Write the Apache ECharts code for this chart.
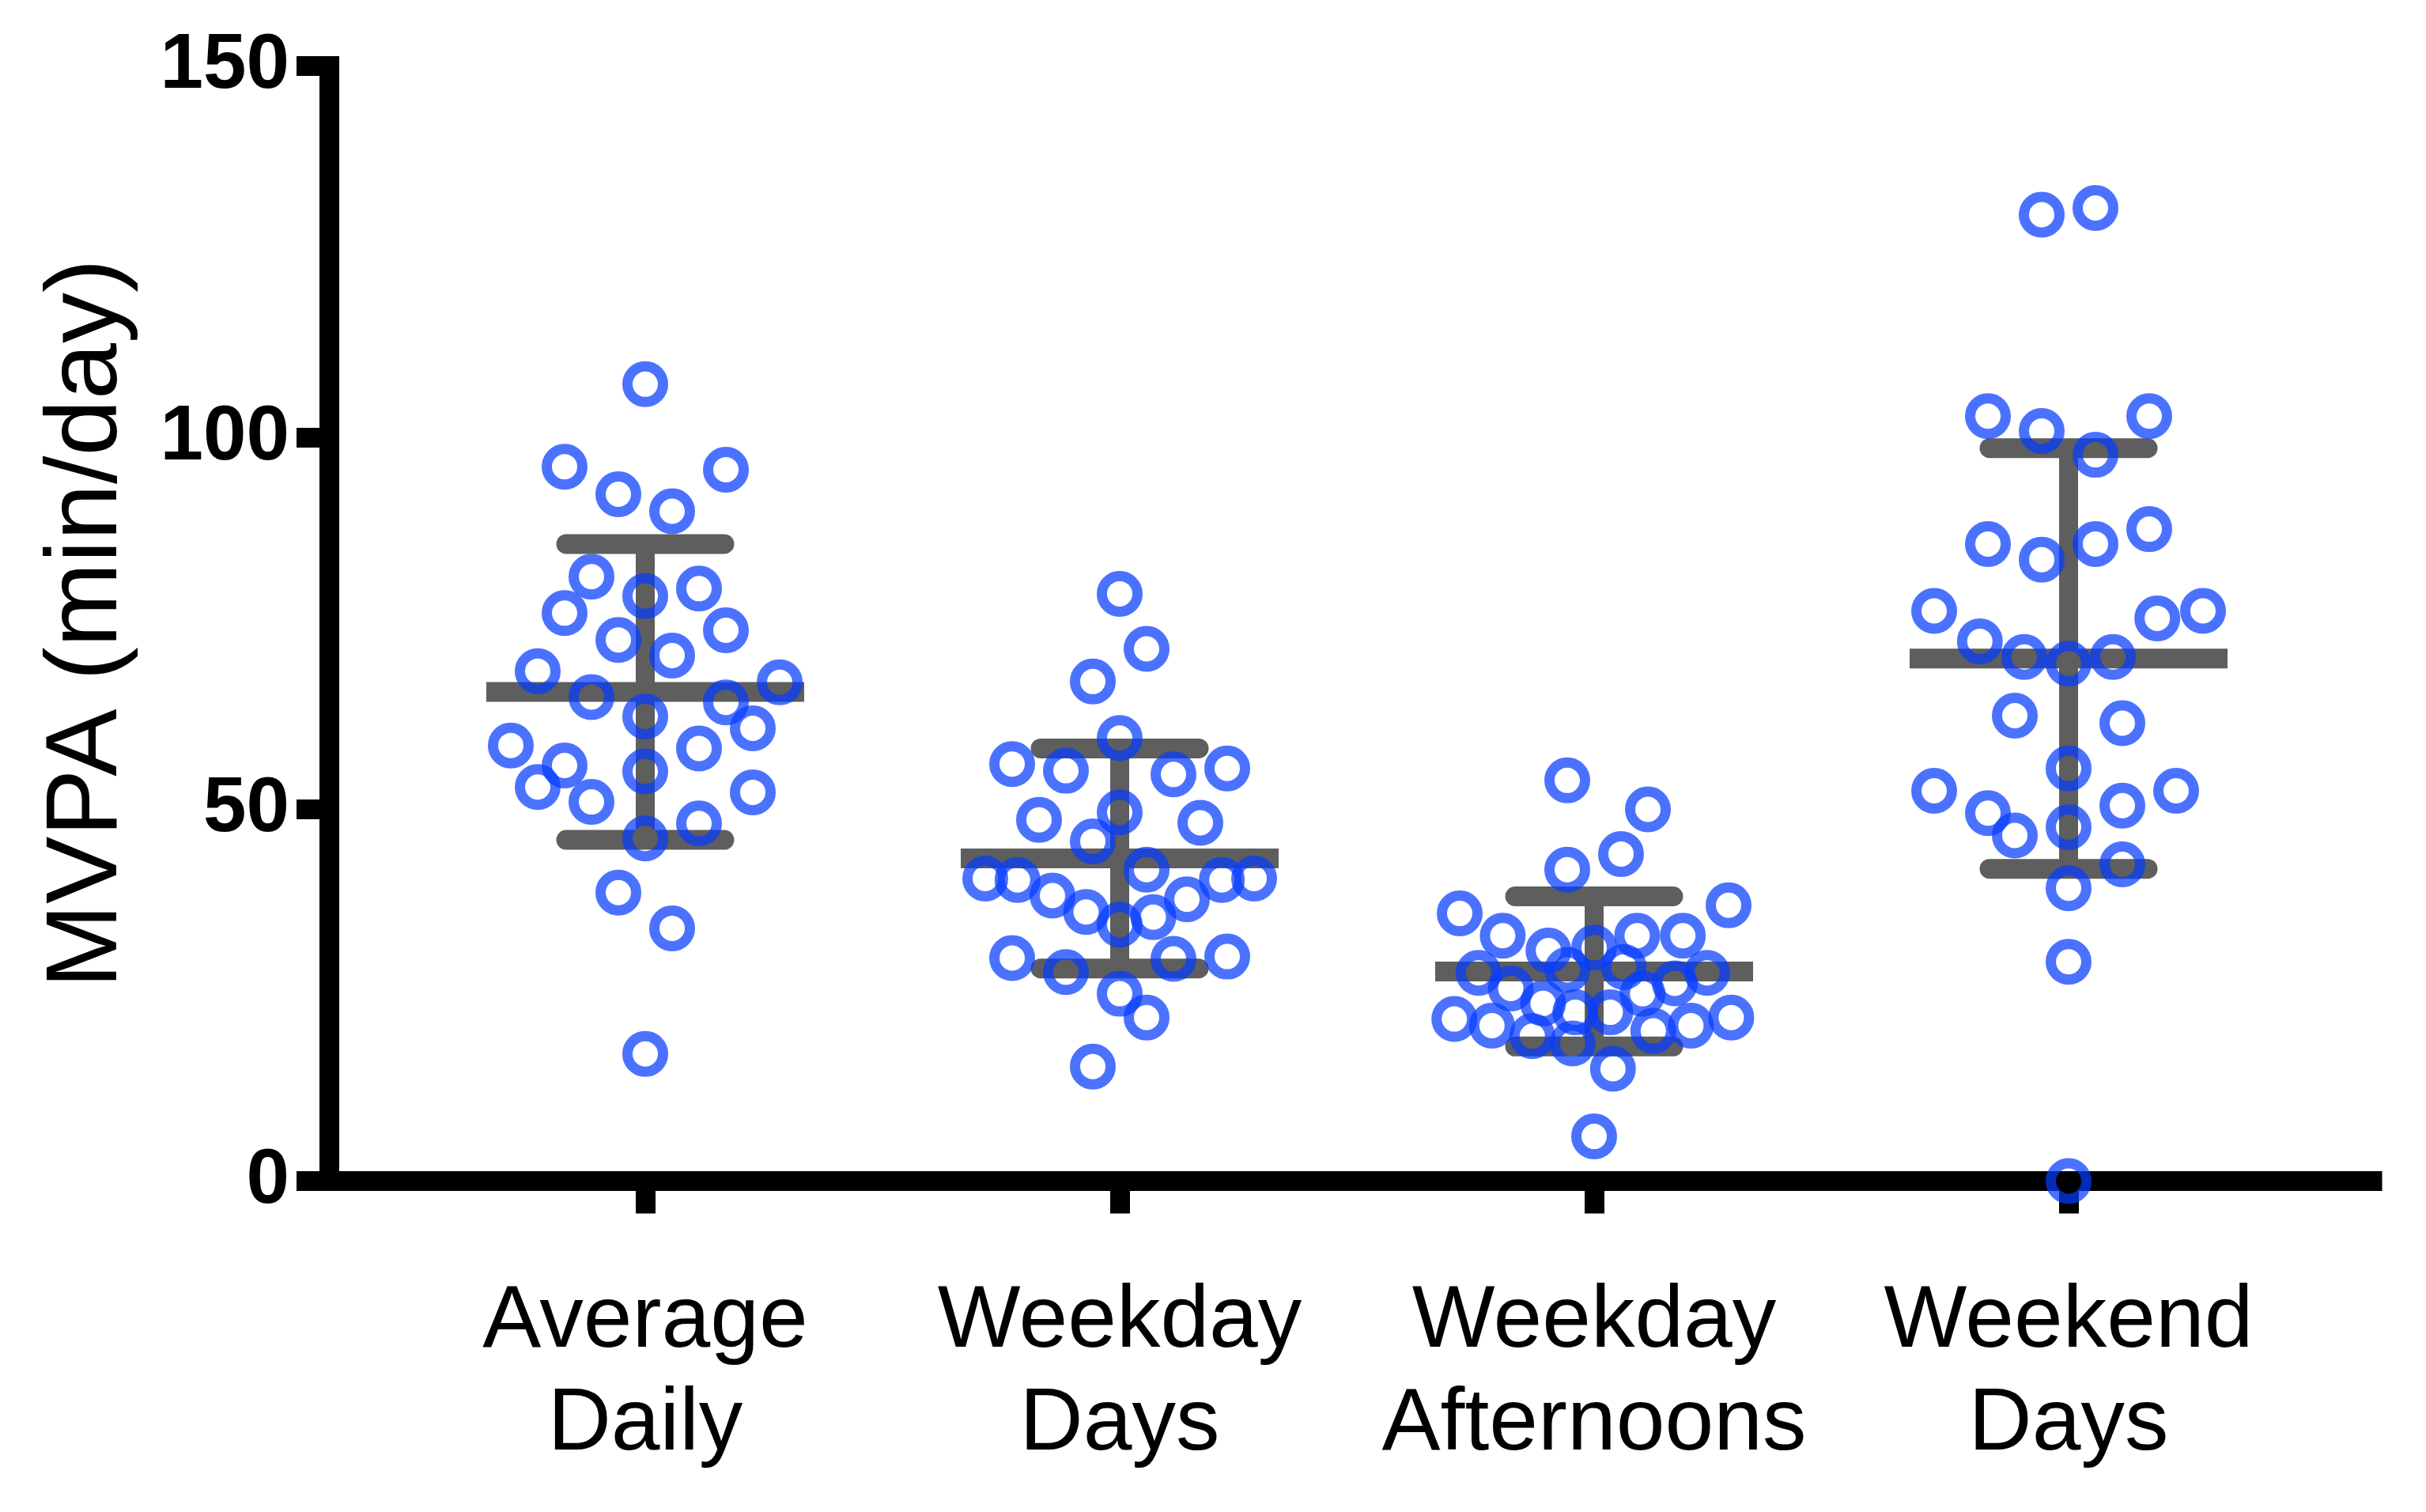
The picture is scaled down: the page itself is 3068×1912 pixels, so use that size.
<!DOCTYPE html>
<html>
<head>
<meta charset="utf-8">
<script src="https://cdn.jsdelivr.net/npm/echarts@6/dist/echarts.min.js"></script>
<style>
  html, body { margin: 0; padding: 0; background: #ffffff; }
  #chart { width: 3068px; height: 1912px; }
</style>
</head>
<body>
<div id="chart"></div>
<script>
// ---- Data ----
const categories = ['Average\nDaily', 'Weekday\nDays', 'Weekday\nAfternoons', 'Weekend\nDays'];
const yTicks = [0, 50, 100, 150];

const averageDailyValues = [107.2, 96.1, 95.7, 92.4, 90.1, 81.3, 78.7, 79.7, 76.4, 74.1, 72.8, 70.7, 68.6, 67.1, 65.1, 64.4, 62.5, 60.9, 58.6, 58.2, 55.9, 55.1, 53.0, 52.3, 51.0, 48.1, 46.1, 38.8, 34.0, 17.1];
const averageDailySlots  = [0, -3, 3, -1, 1, -2, 0, 2, -3, 3, -1, 1, -4, 5, -2, 3, 0, 4, -5, 2, -3, 0, -4, 4, -2, 2, 0, -1, 1, 0];

const weekdayDaysValues = [79.0, 71.6, 67.2, 59.6, 56.1, 55.2, 54.7, 55.5, 49.6, 48.6, 48.2, 45.7, 41.9, 40.7, 40.5, 40.5, 40.7, 38.4, 37.9, 36.2, 35.5, 34.5, 30.0, 29.9, 30.2, 28.1, 25.2, 22.0, 15.4];
const weekdayDaysSlots  = [0, 1, -1, 0, -4, -2, 2, 4, 0, -3, 3, -1, 1, -5, -3.8, 3.8, 5, -2.5, 2.5, -1.25, 1.25, 0, -4, 2, 4, -2, 0, 1, -1];

const weekdayAfternoonsValues = [53.9, 50.0, 44.0, 41.9, 36.0, 37.1, 33.0, 31.0, 31.4, 33.0, 33.0, 28.0, 28.0, 28.4, 28.8, 25.9, 23.9, 22.7, 22.7, 25.2, 26.6, 21.8, 20.9, 19.5, 18.5, 20.2, 20.9, 22.0, 15.1, 6.0];
const weekdayAfternoonsSlots  = [-1, 2, 1, -1, -5, 5, -3.4, -1.7, 0, 1.6, 3.3, -4.3, 4.2, -1, 1.1, -3.1, -1.9, -0.7, 0.6, 1.8, 3, -5.2, -3.8, -2.3, -0.8, 2.2, 3.6, 5.1, 0.7, 0];

const weekendDaysValues = [130.0, 130.9, 102.9, 102.9, 100.9, 97.7, 85.7, 87.7, 83.6, 85.7, 76.7, 76.7, 75.7, 72.6, 70.5, 69.6, 70.5, 62.6, 61.6, 55.5, 52.5, 52.5, 49.5, 50.5, 46.5, 47.6, 42.6, 39.4, 29.5, 0];
const weekendDaysSlots  = [-1, 1, -3, 3, -1, 1, -3, 3, -1, 1, -5, 5, 3.3, -3.3, -1.65, 0, 1.65, -2, 2, 0, -5, 4, -3, 2, -2, 0, 2, 0, 0, 0];

const groupMeans = [65.8, 43.4, 28.2, 70.3];
const groupSDs   = [19.9, 14.8, 10.1, 28.3];

// ---- Build chart ----
const SLOT = 34 / 600; // beeswarm slot width in category units
const groups = [
  [averageDailyValues, averageDailySlots],
  [weekdayDaysValues, weekdayDaysSlots],
  [weekdayAfternoonsValues, weekdayAfternoonsSlots],
  [weekendDaysValues, weekendDaysSlots]
];
const points = [];
groups.forEach(([vals, slots], gi) => {
  vals.forEach((v, k) => points.push([gi + 1 + slots[k] * SLOT, v]));
});
const errData = groupMeans.map((m, i) => [i + 1, m, groupSDs[i]]);

const GRAY = '#5e5e5e';
const FONT = '"Liberation Sans", Arial, Helvetica, sans-serif';

const chart = echarts.init(document.getElementById('chart'), null, { renderer: 'canvas' });
chart.setOption({
  backgroundColor: '#ffffff',
  animation: false,
  grid: { left: 416, right: 68, top: 83.5, bottom: 418.5, containLabel: false, outerBoundsMode: 'none' },
  xAxis: {
    type: 'value',
    min: 1 / 3,
    max: 1 / 3 + 2584 / 600,
    splitLine: { show: false },
    axisLine: { show: true, onZero: false, lineStyle: { color: '#000', width: 25, cap: 'square' } },
    axisTick: { show: true, customValues: [1, 2, 3, 4], length: 41, lineStyle: { color: '#000', width: 25 } },
    axisLabel: {
      customValues: [1, 2, 3, 4],
      formatter: v => categories[Math.round(v) - 1] || '',
      fontFamily: FONT, fontSize: 111, lineHeight: 130, color: '#000', margin: 114
    }
  },
  yAxis: {
    type: 'value',
    min: yTicks[0],
    max: yTicks[yTicks.length - 1],
    interval: 50,
    splitLine: { show: false },
    axisLine: { show: true, lineStyle: { color: '#000', width: 25, cap: 'square' } },
    axisTick: { show: true, length: 41, lineStyle: { color: '#000', width: 25 } },
    axisLabel: { fontFamily: FONT, fontSize: 98, fontWeight: 'bold', color: '#000', margin: 50 },
    name: 'MVPA (min/day)',
    nameLocation: 'middle',
    nameGap: 240,
    nameTextStyle: { fontFamily: FONT, fontSize: 128, color: '#000' }
  },
  series: [
    {
      type: 'custom',
      z: 1,
      silent: true,
      data: errData,
      renderItem: (params, api) => {
        const x = api.value(0), m = api.value(1), s = api.value(2);
        const top = api.coord([x, m + s]);
        const bot = api.coord([x, m - s]);
        const mid = api.coord([x, m]);
        const st = { stroke: GRAY, lineWidth: 25 };
        return {
          type: 'group',
          children: [
            { type: 'line', shape: { x1: top[0], y1: top[1], x2: bot[0], y2: bot[1] }, style: Object.assign({}, st, { lineWidth: 24 }) },
            { type: 'line', shape: { x1: top[0] - 100, y1: top[1], x2: top[0] + 100, y2: top[1] }, style: Object.assign({}, st, { lineCap: 'round' }) },
            { type: 'line', shape: { x1: bot[0] - 100, y1: bot[1], x2: bot[0] + 100, y2: bot[1] }, style: Object.assign({}, st, { lineCap: 'round' }) },
            { type: 'line', shape: { x1: mid[0] - 201, y1: mid[1], x2: mid[0] + 201, y2: mid[1] }, style: Object.assign({}, st, { lineCap: 'butt' }) }
          ]
        };
      }
    },
    {
      type: 'scatter',
      z: 3,
      silent: true,
      clip: false,
      data: points,
      symbol: 'circle',
      symbolSize: 45,
      itemStyle: { color: 'rgba(0,0,0,0)', borderColor: 'rgba(5,60,255,0.9)', borderWidth: 13 },
      emphasis: { disabled: true }
    }
  ]
});
</script>
</body>
</html>
